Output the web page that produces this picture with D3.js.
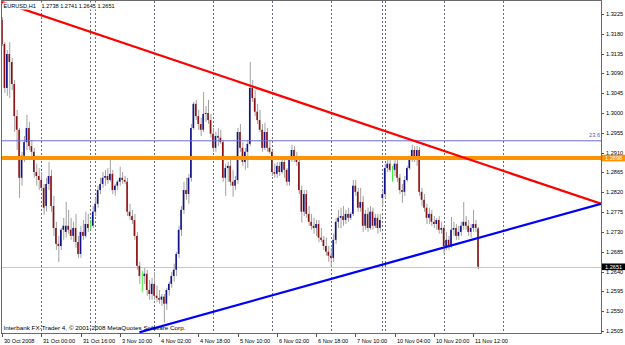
<!DOCTYPE html>
<html><head><meta charset="utf-8">
<script src="https://cdn.jsdelivr.net/npm/d3@7"></script>
<style>
html,body{margin:0;padding:0;background:#fff;}
svg{display:block;font-family:"Liberation Sans",Arial,sans-serif;}
</style></head><body>
<svg id="chart" width="625" height="345"></svg>
<script>
// ---------- data ----------
const symbolTitle = "EURUSD,H1";
const lastBarValues = "1.2738 1.2741 1.2645 1.2651";
const copyright = "Interbank FX-Trader 4, \u00A9 2001-2008 MetaQuotes Software Corp.";

// trading sessions: [date label, first hour, number of H1 bars]
const sessions = [
  ["30 Oct", 8, 16], ["31 Oct", 0, 20], ["2 Nov", 22, 2], ["3 Nov", 0, 24],
  ["4 Nov", 0, 24], ["5 Nov", 0, 24], ["6 Nov", 0, 24], ["7 Nov", 0, 21],
  ["9 Nov", 23, 1], ["10 Nov", 0, 24], ["11 Nov", 0, 15]
];
const firstLabel = "30 Oct 2008";

const opens = [
 1.3211,1.3157,1.3057,1.3134,1.3116,1.3066,1.2993,1.2962,1.2853,1.2903,
 1.2934,1.2966,1.2925,1.2912,1.2866,1.2857,1.2848,1.2830,1.2789,1.2839,
 1.2857,1.2789,1.2739,1.2703,1.2698,1.2735,1.2730,1.2744,1.2735,1.2721,
 1.2739,1.2707,1.2680,1.2730,1.2721,1.2748,1.2744,1.2744,1.2776,1.2794,
 1.2825,1.2839,1.2853,1.2857,1.2848,1.2862,1.2825,1.2835,1.2844,1.2853,
 1.2848,1.2844,1.2776,1.2766,1.2757,1.2721,1.2653,1.2630,1.2630,1.2635,
 1.2598,1.2589,1.2612,1.2585,1.2580,1.2576,1.2583,1.2567,1.2598,1.2612,
 1.2630,1.2644,1.2680,1.2735,1.2780,1.2825,1.2816,1.2853,1.2966,1.3021,
 1.2993,1.2975,1.2962,1.2998,1.3000,1.2984,1.2953,1.2921,1.2948,1.2944,
 1.2934,1.2853,1.2875,1.2880,1.2844,1.2835,1.2848,1.2957,1.2921,1.2889,
 1.2912,1.2930,1.3057,1.3034,1.3003,1.2984,1.2962,1.2921,1.2957,1.2921,
 1.2912,1.2866,1.2862,1.2880,1.2866,1.2889,1.2871,1.2844,1.2898,1.2916,
 1.2898,1.2889,1.2825,1.2776,1.2816,1.2771,1.2753,1.2744,1.2739,1.2748,
 1.2717,1.2712,1.2698,1.2685,1.2676,1.2671,1.2712,1.2753,1.2762,1.2766,
 1.2757,1.2771,1.2762,1.2771,1.2835,1.2821,1.2785,1.2798,1.2744,1.2771,
 1.2739,1.2776,1.2744,1.2762,1.2739,1.2807,1.2816,1.2875,1.2885,1.2871,
 1.2871,1.2885,1.2853,1.2825,1.2821,1.2848,1.2875,1.2898,1.2916,1.2898,
 1.2916,1.2821,1.2803,1.2785,1.2762,1.2771,1.2753,1.2748,1.2757,1.2735,
 1.2739,1.2698,1.2712,1.2698,1.2735,1.2739,1.2721,1.2730,1.2744,1.2753,
 1.2744,1.2730,1.2739,1.2748,1.2738
];
const highs = [
 1.3218,1.3161,1.3143,1.3161,1.3125,1.3075,1.3007,1.2966,1.2912,1.2948,
 1.2996,1.2980,1.2939,1.2921,1.2885,1.2875,1.2866,1.2839,1.2853,1.2889,
 1.2871,1.2812,1.2753,1.2721,1.2739,1.2762,1.2798,1.2780,1.2762,1.2753,
 1.2771,1.2721,1.2744,1.2757,1.2776,1.2771,1.2757,1.2789,1.2807,1.2835,
 1.2853,1.2866,1.2871,1.2875,1.2898,1.2871,1.2839,1.2848,1.2878,1.2866,
 1.2857,1.2853,1.2794,1.2780,1.2771,1.2730,1.2662,1.2642,1.2648,1.2644,
 1.2621,1.2626,1.2639,1.2608,1.2598,1.2589,1.2589,1.2603,1.2617,1.2639,
 1.2658,1.2685,1.2744,1.2789,1.2844,1.2853,1.2862,1.2975,1.3025,1.3030,
 1.3007,1.2989,1.3048,1.3016,1.3030,1.2998,1.2966,1.2957,1.2966,1.2962,
 1.2939,1.2885,1.2889,1.2894,1.2871,1.2857,1.2966,1.2975,1.2934,1.2921,
 1.2939,1.3116,1.3075,1.3052,1.3021,1.3007,1.2975,1.2978,1.2966,1.2939,
 1.2916,1.2885,1.2889,1.2889,1.2898,1.2898,1.2875,1.2903,1.2928,1.2925,
 1.2912,1.2898,1.2835,1.2825,1.2825,1.2789,1.2771,1.2762,1.2757,1.2757,
 1.2739,1.2721,1.2717,1.2698,1.2694,1.2726,1.2762,1.2780,1.2785,1.2789,
 1.2780,1.2785,1.2776,1.2848,1.2848,1.2830,1.2830,1.2812,1.2780,1.2785,
 1.2789,1.2785,1.2771,1.2771,1.2771,1.2825,1.2885,1.2894,1.2894,1.2880,
 1.2898,1.2894,1.2862,1.2839,1.2857,1.2880,1.2903,1.2928,1.2925,1.2925,
 1.2923,1.2830,1.2816,1.2794,1.2785,1.2780,1.2766,1.2762,1.2766,1.2753,
 1.2744,1.2730,1.2721,1.2764,1.2753,1.2748,1.2744,1.2753,1.2798,1.2766,
 1.2757,1.2748,1.2780,1.2757,1.2741
];
const lows = [
 1.3152,1.3046,1.3039,1.3034,1.3052,1.2957,1.2916,1.2807,1.2835,1.2889,
 1.2916,1.2916,1.2903,1.2853,1.2835,1.2825,1.2825,1.2769,1.2776,1.2825,
 1.2776,1.2721,1.2689,1.2662,1.2689,1.2712,1.2717,1.2726,1.2712,1.2707,
 1.2694,1.2671,1.2671,1.2712,1.2717,1.2730,1.2735,1.2739,1.2766,1.2785,
 1.2816,1.2830,1.2835,1.2839,1.2844,1.2816,1.2812,1.2825,1.2835,1.2839,
 1.2839,1.2766,1.2757,1.2748,1.2712,1.2644,1.2612,1.2594,1.2612,1.2585,
 1.2576,1.2576,1.2576,1.2571,1.2567,1.2562,1.2524,1.2553,1.2585,1.2603,
 1.2617,1.2630,1.2671,1.2721,1.2771,1.2803,1.2794,1.2844,1.2962,1.2984,
 1.2962,1.2948,1.2957,1.2980,1.2975,1.2944,1.2912,1.2912,1.2925,1.2930,
 1.2844,1.2812,1.2844,1.2835,1.2810,1.2825,1.2839,1.2912,1.2880,1.2871,
 1.2875,1.2925,1.3025,1.2993,1.2975,1.2957,1.2912,1.2916,1.2912,1.2907,
 1.2857,1.2853,1.2853,1.2857,1.2862,1.2853,1.2835,1.2835,1.2889,1.2889,
 1.2880,1.2816,1.2751,1.2766,1.2762,1.2744,1.2735,1.2726,1.2721,1.2707,
 1.2707,1.2689,1.2676,1.2662,1.2651,1.2662,1.2703,1.2739,1.2739,1.2744,
 1.2748,1.2753,1.2757,1.2766,1.2812,1.2776,1.2776,1.2730,1.2735,1.2730,
 1.2735,1.2735,1.2739,1.2726,1.2730,1.2789,1.2807,1.2866,1.2866,1.2844,
 1.2857,1.2844,1.2816,1.2796,1.2812,1.2844,1.2871,1.2889,1.2889,1.2880,
 1.2812,1.2789,1.2776,1.2748,1.2748,1.2744,1.2739,1.2735,1.2726,1.2726,
 1.2682,1.2689,1.2689,1.2694,1.2721,1.2712,1.2712,1.2721,1.2735,1.2735,
 1.2721,1.2717,1.2730,1.2730,1.2645
];
const closes = [
 1.3157,1.3057,1.3134,1.3116,1.3066,1.2993,1.2962,1.2853,1.2903,1.2934,
 1.2966,1.2925,1.2912,1.2866,1.2857,1.2848,1.2830,1.2785,1.2839,1.2857,
 1.2789,1.2739,1.2703,1.2698,1.2735,1.2744,1.2744,1.2735,1.2721,1.2739,
 1.2707,1.2680,1.2730,1.2721,1.2748,1.2739,1.2744,1.2776,1.2794,1.2825,
 1.2839,1.2853,1.2857,1.2848,1.2862,1.2825,1.2835,1.2844,1.2853,1.2848,
 1.2844,1.2776,1.2766,1.2757,1.2721,1.2653,1.2630,1.2630,1.2635,1.2598,
 1.2589,1.2612,1.2585,1.2580,1.2576,1.2583,1.2567,1.2598,1.2612,1.2630,
 1.2644,1.2680,1.2735,1.2780,1.2825,1.2816,1.2853,1.2966,1.3021,1.2993,
 1.2975,1.2962,1.2998,1.3000,1.2984,1.2953,1.2921,1.2948,1.2944,1.2934,
 1.2853,1.2875,1.2880,1.2844,1.2835,1.2848,1.2957,1.2921,1.2889,1.2912,
 1.2930,1.3057,1.3034,1.3003,1.2984,1.2962,1.2921,1.2957,1.2921,1.2912,
 1.2866,1.2862,1.2880,1.2866,1.2889,1.2871,1.2844,1.2898,1.2916,1.2898,
 1.2889,1.2825,1.2776,1.2816,1.2771,1.2753,1.2744,1.2739,1.2748,1.2717,
 1.2712,1.2698,1.2685,1.2676,1.2671,1.2712,1.2753,1.2762,1.2766,1.2757,
 1.2771,1.2762,1.2771,1.2835,1.2821,1.2785,1.2798,1.2744,1.2771,1.2739,
 1.2776,1.2744,1.2762,1.2739,1.2757,1.2816,1.2875,1.2885,1.2871,1.2871,
 1.2885,1.2853,1.2825,1.2821,1.2848,1.2875,1.2898,1.2916,1.2898,1.2916,
 1.2821,1.2803,1.2785,1.2762,1.2771,1.2753,1.2748,1.2757,1.2735,1.2739,
 1.2698,1.2712,1.2698,1.2735,1.2739,1.2721,1.2730,1.2744,1.2753,1.2744,
 1.2730,1.2739,1.2748,1.2739,1.2651
];

const priceTicks = ["1.3225","1.3180","1.3135","1.3090","1.3045","1.3000","1.2955","1.2910",
  "1.2865","1.2820","1.2775","1.2730","1.2685","1.2640","1.2595","1.2550","1.2505"];
const timeLabelEvery = 16;

// chart objects
const fiboLevel = { price: 1.2937, label: "23.6" };
const orangeLevel = 1.2898;
const bidPrice = 1.2651;
const redTrend = [[0, 1.3252], [244.1, 1.2794]];   // [bar index, price]
const blueTrend = [[56, 1.2502], [244.1, 1.2794]];

// ---------- drawing ----------
const W = 625, H = 345;
const plot = { left: 2, right: 601, top: 1, bottom: 333 };
const svg = d3.select("#chart");
const FONT = 5.6;

// bar times
const barTimes = [];
sessions.forEach(([d, h0, n]) => { for (let k = 0; k < n; k++) barTimes.push(d + " " + String(h0 + k).padStart(2, "0") + ":00"); });
const dayStarts = [];
let acc = 0;
sessions.forEach(([d, h0, n], si) => { if (si > 0) dayStarts.push(acc); acc += n; });
const lastStart = dayStarts[dayStarts.length - 1];
dayStarts.push(lastStart + 24); // next (future) day in the shifted area

const x = d3.scaleLinear().domain([0, 244.1]).range([plot.left, plot.right]);
const y = d3.scaleLinear().domain([1.25004, 1.32545]).range([plot.bottom, plot.top]);

svg.append("rect").attr("width", W).attr("height", H).attr("fill", "#fff");
svg.append("defs").append("clipPath").attr("id", "clip")
  .append("rect").attr("x", plot.left).attr("y", plot.top)
  .attr("width", plot.right - plot.left).attr("height", plot.bottom - plot.top);

const pg = svg.append("g").attr("clip-path", "url(#clip)");

// vertical grid (day separators)
pg.selectAll("line.grid").data(dayStarts).join("line")
  .attr("x1", d => Math.round(x(d)) + 0.5).attr("x2", d => Math.round(x(d)) + 0.5)
  .attr("y1", plot.top).attr("y2", plot.bottom)
  .attr("stroke", "#6a6a7a").attr("stroke-width", 1).attr("stroke-dasharray", "2,2");

// bid line
pg.append("line").attr("x1", plot.left).attr("x2", plot.right)
  .attr("y1", Math.round(y(bidPrice)) + 0.5).attr("y2", Math.round(y(bidPrice)) + 0.5)
  .attr("stroke", "#c8c8d0").attr("stroke-width", 1);

// copyright (under the drawn objects)
svg.append("text").attr("x", 3.5).attr("y", 329.8).attr("font-size", FONT).attr("fill", "#000")
  .attr("textLength", 182).attr("lengthAdjust", "spacingAndGlyphs").text(copyright);

// candles
const bars = closes.map((c, i) => ({ i, o: opens[i], h: highs[i], l: lows[i], c }));
const cg = pg.append("g");
cg.selectAll("line.wick").data(bars).join("line")
  .attr("x1", d => x(d.i) + 0.4).attr("x2", d => x(d.i) + 0.4)
  .attr("y1", d => y(d.h)).attr("y2", d => y(d.l))
  .attr("stroke", d => d.o === d.c ? "#33ee33" : "#a0a0a0").attr("stroke-width", 1);
cg.selectAll("rect.body").data(bars.filter(d => d.o !== d.c)).join("rect")
  .attr("x", d => x(d.i) - 0.9).attr("width", 1.6)
  .attr("y", d => Math.min(y(d.o), y(d.c)))
  .attr("height", d => Math.max(0.8, Math.abs(y(d.o) - y(d.c))))
  .attr("fill", d => d.c > d.o ? "#12128c" : "#8c1212");

// fibo 23.6 line
pg.append("line").attr("x1", plot.left).attr("x2", plot.right)
  .attr("y1", y(fiboLevel.price)).attr("y2", y(fiboLevel.price))
  .attr("stroke", "#6b6bd6").attr("stroke-width", 1);
// orange level
pg.append("line").attr("x1", plot.left).attr("x2", plot.right)
  .attr("y1", y(orangeLevel)).attr("y2", y(orangeLevel))
  .attr("stroke", "#ff9200").attr("stroke-width", 4);

// trend lines extended to the right edge
function trend(pts, color) {
  const [[i1, p1], [i2, p2]] = pts;
  const slope = (p2 - p1) / (i2 - i1);
  const iEnd = x.domain()[1];
  pg.append("line")
    .attr("x1", x(i1)).attr("y1", y(p1))
    .attr("x2", x(iEnd)).attr("y2", y(p1 + slope * (iEnd - i1)))
    .attr("stroke", color).attr("stroke-width", 2.3);
}
trend(redTrend, "#ff0000");
trend(blueTrend, "#0000ff");

// fibo label
svg.append("text").attr("x", plot.right - 1).attr("y", y(fiboLevel.price) - 3.4)
  .attr("text-anchor", "end").attr("font-size", FONT).attr("fill", "#5555cc").text(fiboLevel.label);

// title (with white backing, as in the terminal)
const title = svg.append("g");
title.append("rect").attr("x", 3).attr("y", 2.5).attr("width", 113).attr("height", 7).attr("fill", "#fff");
title.append("text").attr("x", 3.5).attr("y", 8.2).attr("font-size", FONT).attr("fill", "#000").text(symbolTitle);
title.append("text").attr("x", 41.5).attr("y", 8.2).attr("font-size", FONT).attr("fill", "#000").text(lastBarValues);

// frame
svg.append("rect").attr("x", plot.left - 0.5).attr("y", plot.top - 0.5)
  .attr("width", plot.right - plot.left + 1).attr("height", plot.bottom - plot.top + 1)
  .attr("fill", "none").attr("stroke", "#6a6a6a").attr("stroke-width", 1);

// price axis
const ya = svg.append("g");
priceTicks.forEach(t => {
  const yy = Math.round(y(+t)) + 0.5;
  ya.append("line").attr("x1", plot.right).attr("x2", plot.right + 3).attr("y1", yy).attr("y2", yy)
    .attr("stroke", "#555");
  ya.append("text").attr("x", plot.right + 5).attr("y", yy).attr("dy", "0.35em")
    .attr("font-size", FONT).attr("fill", "#000").text(t);
});

// price boxes
function priceBox(p, fill, txt) {
  const yy = y(p);
  svg.append("rect").attr("x", plot.right + 1).attr("y", yy - 3.2).attr("width", 23).attr("height", 6.6).attr("fill", fill);
  svg.append("text").attr("x", plot.right + 4).attr("y", yy + 0.1).attr("dy", "0.35em")
    .attr("font-size", FONT).attr("fill", "#fff").text(txt);
}
priceBox(orangeLevel, "#ff9200", orangeLevel.toFixed(4));
priceBox(bidPrice, "#000", bidPrice.toFixed(4));

// time axis
const xa = svg.append("g");
d3.range(0, barTimes.length, timeLabelEvery).forEach(i => {
  const xx = Math.round(x(i)) + 0.5;
  xa.append("line").attr("x1", xx).attr("x2", xx).attr("y1", plot.bottom).attr("y2", plot.bottom + 4).attr("stroke", "#555");
  xa.append("text").attr("x", xx + 1.5).attr("y", 340.8).attr("dy", "0.35em")
    .attr("font-size", FONT).attr("fill", "#000").text(i === 0 ? firstLabel : barTimes[i]);
});
</script>
</body></html>
